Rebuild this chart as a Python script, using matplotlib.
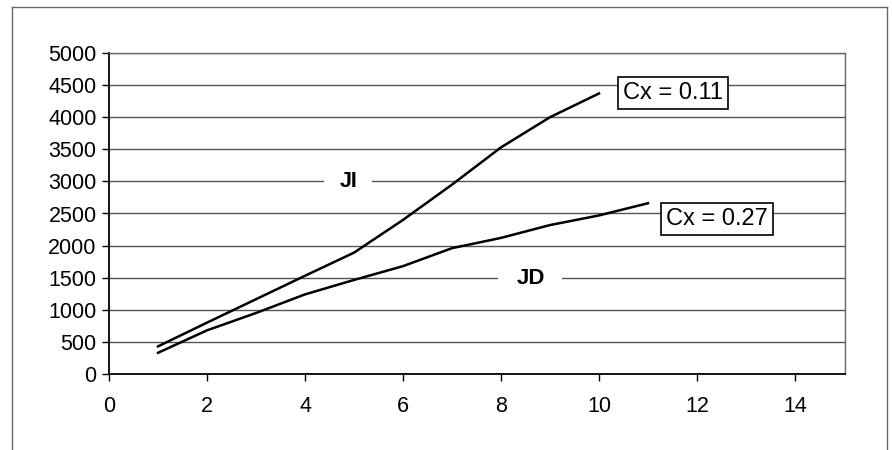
import matplotlib
matplotlib.use("Agg")
import matplotlib.pyplot as plt
from matplotlib.lines import Line2D

# Data
x_ji = [1, 2, 3, 4, 5, 6, 7, 8, 9, 10]
y_ji = [430, 800, 1165, 1530, 1890, 2400, 2950, 3530, 4000, 4370]
x_jd = [1, 2, 3, 4, 5, 6, 7, 8, 9, 10, 11]
y_jd = [330, 680, 950, 1240, 1465, 1680, 1960, 2120, 2320, 2470, 2660]
xticks = [0, 2, 4, 6, 8, 10, 12, 14]
yticks = [0, 500, 1000, 1500, 2000, 2500, 3000, 3500, 4000, 4500, 5000]

plt.rcParams['font.family'] = ['Liberation Sans', 'DejaVu Sans']

fig = plt.figure(figsize=(8.92, 4.5), dpi=100)
ax = fig.add_axes([109/892, 1-374/450, (845-109)/892, (374-53)/450])

for yv in yticks[1:]:
    ax.axhline(yv, color='#555555', lw=1.0, zorder=1)

ax.plot(x_ji, y_ji, color='black', lw=1.8, zorder=3)
ax.plot(x_jd, y_jd, color='black', lw=1.8, zorder=3)

ax.set_xlim(0, 15.02)
ax.set_ylim(0, 5000)
ax.set_xticks(xticks)
ax.set_yticks(yticks)
ax.tick_params(axis='both', labelsize=15.5, direction='out', length=5, width=1, colors='black')
ax.tick_params(axis='y', pad=4)
ax.tick_params(axis='x', pad=11)

for s in ['left', 'bottom']:
    ax.spines[s].set_color('black')
    ax.spines[s].set_linewidth(1.3)
ax.spines['right'].set_color('#666666')
ax.spines['top'].set_color('#666666')
ax.spines['right'].set_linewidth(1.0)
ax.spines['top'].set_linewidth(1.0)

ax.text(4.88, 3000, 'JI', fontsize=15.5, fontweight='bold', ha='center', va='center', zorder=4,
        bbox=dict(boxstyle='square,pad=0.7', fc='white', ec='none'))
ax.text(8.6, 1480, 'JD', fontsize=16, fontweight='bold', ha='center', va='center', zorder=4,
        bbox=dict(boxstyle='square,pad=0.8', fc='white', ec='none'))

ax.text(11.51, 4377, 'Cx = 0.11', fontsize=17, ha='center', va='center', zorder=5,
        bbox=dict(boxstyle='square,pad=0.22', fc='white', ec='black', lw=1.2))
ax.text(12.41, 2414, 'Cx = 0.27', fontsize=17, ha='center', va='center', zorder=5,
        bbox=dict(boxstyle='square,pad=0.22', fc='white', ec='black', lw=1.2))

# outer frame (open at bottom)
fx0, fx1, fy0 = 12/892, 887/892, 1-7/450
for xs, ys in [([fx0, fx0], [0, fy0]), ([fx0, fx1], [fy0, fy0]), ([fx1, fx1], [fy0, 0])]:
    fig.add_artist(Line2D(xs, ys, color='#666666', lw=1.0, transform=fig.transFigure))

fig.savefig('out.png', dpi=100)
